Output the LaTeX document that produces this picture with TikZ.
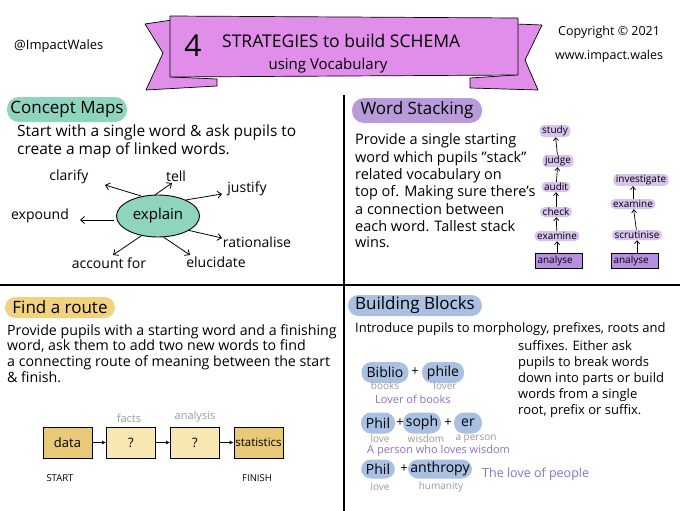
\documentclass[tikz,border=0pt]{standalone}
\usepackage{fontspec}
\setmainfont{Open Sans}
\usetikzlibrary{arrows.meta,shapes.geometric}
\definecolor{bannerc}{HTML}{E08EEA}
\definecolor{tealc}{HTML}{8FD4BE}
\definecolor{lavc}{HTML}{B99BDC}
\definecolor{lavlight}{HTML}{D8C3EF}
\definecolor{lavbox}{HTML}{B58FE0}
\definecolor{yelc}{HTML}{F1D27F}
\definecolor{yelbox}{HTML}{E8C978}
\definecolor{yellight}{HTML}{F8E6B3}
\definecolor{bluec}{HTML}{A9C0E2}
\definecolor{grayt}{HTML}{9A9A9A}
\definecolor{purt}{HTML}{8B70C8}
\begin{document}
\begin{tikzpicture}[x=1pt,y=-1pt,
  txt/.style={anchor=mid west,inner sep=0pt,font=\fontsize{14.5}{16}\selectfont},
  small/.style={anchor=mid west,inner sep=0pt,font=\fontsize{13}{14}\selectfont},
  word/.style={inner sep=0pt,font=\fontsize{14}{15}\selectfont},
  ttlpill/.style={inner sep=0pt,font=\fontsize{17}{19}\selectfont,minimum height=25pt,rounded corners=12pt},
  arr/.style={-{Straight Barb[length=4pt,width=7pt]},line width=0.8pt},
  stk/.style={fill=lavlight,rounded corners=4.5pt,inner xsep=2.5pt,inner ysep=1pt,minimum height=10pt,font=\fontsize{10}{11}\selectfont},
  stkbox/.style={draw,line width=1.2pt,fill=lavbox,minimum width=47pt,minimum height=15pt,inner sep=1pt,font=\fontsize{10}{11}\selectfont},
  sarr/.style={-{Straight Barb[length=3pt,width=5pt]},line width=0.7pt},
  rbox/.style={draw,line width=0.9pt,minimum width=49pt,minimum height=31pt,inner sep=0pt,font=\fontsize{13}{15}\selectfont},
  rarr/.style={-{Latex[length=4pt,width=4pt]},line width=0.8pt},
  bpill/.style={fill=bluec,rounded corners=10pt,minimum height=21pt,inner sep=0pt,font=\fontsize{14}{16}\selectfont},
  glab/.style={text=grayt,inner sep=0pt,font=\fontsize{10}{12}\selectfont},
  plab/.style={text=purt,anchor=mid west,inner sep=0pt,font=\fontsize{11}{13}\selectfont},
  plus/.style={inner sep=0pt,font=\fontsize{13}{15}\selectfont},
  frt/.style={txt,font=\fontsize{14.2}{15}\selectfont},
  bbt/.style={txt,font=\fontsize{13}{15}\selectfont}
]
\useasboundingbox (0,0) rectangle (680,511);
\fill[white] (0,0) rectangle (680,511);

% ---------- banner ----------
\draw[fill=bannerc,line width=0.7pt,line join=round] (145,24) -- (172,20) -- (172,77) -- (217,79) -- (217,86) -- (146,90) -- (163,53) -- cycle;
\draw[fill=bannerc,line width=0.7pt,line join=round] (516,24) -- (542,25) -- (525,60) -- (538,90) -- (470,88) -- (470,78) -- (516,75) -- cycle;
\draw[fill=bannerc,line width=0.7pt,line join=round] (170,16) -- (518,18) -- (518,75) -- (170,77) -- cycle;
\node[inner sep=0pt,font=\fontsize{30}{32}\selectfont] (four) at (193,46) {4};
\node[anchor=mid west,inner sep=0pt,font=\fontsize{17.5}{19}\selectfont] (ttl1) at (222,45) {STRATEGIES to build SCHEMA};
\node[inner sep=0pt,font=\fontsize{15}{17}\selectfont] (ttl2) at (328,66) {using Vocabulary};

\node[small] (handle) at (14,47) {@ImpactWales};
\node[small,font=\fontsize{12.5}{14}\selectfont] (copy) at (558,33) {Copyright © 2021};
\node[small,font=\fontsize{12.5}{14}\selectfont] (web) at (555,57) {www.impact.wales};

% ---------- dividers ----------
\draw[line width=1.8pt] (0,285) -- (680,285);
\draw[line width=1.8pt] (344,95) -- (344,511);

% ---------- Concept Maps ----------
\node[ttlpill,fill=tealc,minimum width=120pt] (cmt) at (67,109.5) {Concept Maps};
\node[txt,font=\fontsize{15.5}{17}\selectfont] (cm1) at (17,134) {Start with a single word \& ask pupils to};
\node[txt,font=\fontsize{15.5}{17}\selectfont] (cm2) at (17,152) {create a map of linked words.};
\node[ellipse,draw,line width=0.9pt,fill=tealc,minimum width=83pt,minimum height=42pt,inner sep=0pt,font=\fontsize{15}{17}\selectfont] (ex) at (158,216) {explain};
\node[word] (clarify) at (69,177) {clarify};
\node[word] (tell) at (176,176) {tell};
\node[word] (justify) at (247,189) {justify};
\node[word] (expound) at (40,216) {expound};
\node[word] (rational) at (257,242) {rationalise};
\node[word] (account) at (109,263) {account for};
\node[word] (eluc) at (216,262) {elucidate};
\coordinate (eClar) at (105,185);
\coordinate (eTell) at (172,183);
\coordinate (eJust) at (222,194);
\coordinate (eExp) at (80,220);
\coordinate (eRat) at (222,238);
\coordinate (eAcc) at (113,255);
\coordinate (eElu) at (190,255);
\draw[arr] (ex.135) ++(2,-1) -- (eClar);
\draw[arr] (ex.97) -- (eTell);
\draw[arr] (ex.30) -- (eJust);
\draw[arr] (ex.west) ++(-2,4) -- (eExp);
\draw[arr] (ex.-25) -- (eRat);
\draw[arr] (ex.-130) -- (eAcc);
\draw[arr] (ex.-75) -- (eElu);

% ---------- Word Stacking ----------
\node[ttlpill,fill=lavc,minimum width=130pt] (wst) at (417,110.5) {Word Stacking};
\node[txt] (ws1) at (355,142) {Provide a single starting};
\node[txt] (ws2) at (355,160) {word which pupils "stack"};
\node[txt] (ws3) at (355,177) {related vocabulary on};
\node[txt] (ws4) at (355,194) {top of. Making sure there's};
\node[txt] (ws5) at (355,212) {a connection between};
\node[txt] (ws6) at (355,229) {each word. Tallest stack};
\node[txt] (ws7) at (355,245) {wins.};

\node[stkbox,text width=43pt,align=left] (a1) at (559,261) {analyse};
\node[stk] (s1e) at (557,236) {examine};
\node[stk] (s1c) at (556,212) {check};
\node[stk] (s1a) at (556,187) {audit};
\node[stk] (s1j) at (558,161) {judge};
\node[stk] (s1s) at (555,131) {study};
\draw[sarr] (a1.north -| s1e) -- (s1e);
\draw[sarr] (s1e) -- (s1c);
\draw[sarr] (s1c) -- (s1a);
\draw[sarr] (s1a) -- (s1j);
\draw[sarr] (s1j) -- (s1s);

\node[stkbox,text width=43pt,align=left] (a2) at (635,261) {analyse};
\node[stk] (s2s) at (637,235) {scrutinise};
\node[stk] (s2e) at (633,204) {examine};
\node[stk] (s2i) at (641,180) {investigate};
\draw[sarr] (a2.north -| s2s) -- (s2s);
\draw[sarr] (s2s) -- (s2e);
\draw[sarr] (s2e.north -| s2e) -- (s2i.south -| s2e);

% ---------- Find a route ----------
\node[ttlpill,fill=yelc,minimum width=110pt,rounded corners=10.5pt,minimum height=21pt] (frt) at (60,307.5) {Find a route};
\node[frt] (fr1) at (7,333) {Provide pupils with a starting word and a finishing};
\node[frt] (fr2) at (7,348) {word, ask them to add two new words to find};
\node[frt] (fr3) at (7,364) {a connecting route of meaning between the start};
\node[frt] (fr4) at (7,380) {\& finish.};
\node[rbox,fill=yelbox] (data) at (67.5,442.5) {data};
\node[rbox,fill=yellight] (q1) at (131,442.5) {?};
\node[rbox,fill=yellight] (q2) at (195,442.5) {?};
\node[rbox,fill=yelbox,font=\fontsize{11.5}{13}\selectfont] (stat) at (258.5,442.5) {statistics};
\draw[rarr] (data) -- (q1);
\draw[rarr] (q1) -- (q2);
\draw[rarr] (q2) -- (stat);
\node[glab,font=\fontsize{11}{13}\selectfont] (facts) at (129,418) {facts};
\node[glab,font=\fontsize{11}{13}\selectfont] (anal) at (195,417) {analysis};
\node[inner sep=0pt,font=\fontsize{9.5}{11}\selectfont] (start) at (60,478) {START};
\node[inner sep=0pt,font=\fontsize{9.5}{11}\selectfont] (fin) at (257,478) {FINISH};

% ---------- Building Blocks ----------
\node[ttlpill,fill=bluec,minimum width=134pt,rounded corners=10.5pt,minimum height=21pt] (bbtl) at (415,305.5) {Building Blocks};
\node[bbt] (bb1) at (355,330) {Introduce pupils to morphology, prefixes, roots and};
\node[bbt] (bb2) at (518,348) {suffixes. Either ask};
\node[bbt] (bb3) at (518,364) {pupils to break words};
\node[bbt] (bb4) at (518,380) {down into parts or build};
\node[bbt] (bb5) at (518,396) {words from a single};
\node[bbt] (bb6) at (518,412) {root, prefix or suffix.};

\node[bpill,minimum width=47pt] (biblio) at (385,372.5) {Biblio};
\node[plus] (p1) at (415,372) {+};
\node[bpill,minimum width=42pt] (phile) at (443,372.5) {phile};
\node[glab] (books) at (385,386) {books};
\node[glab] (lover) at (445,386) {lover};
\node[plab] (lob) at (375,401) {Lover of books};

\node[bpill,minimum width=34pt] (phil1) at (378,423) {Phil};
\node[plus] (p2) at (400,423) {+};
\node[bpill,minimum width=38pt] (soph) at (422,423) {soph};
\node[plus] (p3) at (448,423) {+};
\node[bpill,minimum width=28pt] (er) at (468,423) {er};
\node[glab] (love1) at (380,439) {love};
\node[glab] (wis) at (426,439) {wisdom};
\node[glab] (aper) at (476,439) {a person};
\node[plab] (pwl) at (367,451) {A person who loves wisdom};

\node[bpill,minimum width=34pt,minimum height=19pt] (phil2) at (378,469) {Phil};
\node[plus] (p4) at (404,469) {+};
\node[bpill,minimum width=64pt,minimum height=19pt] (anth) at (440,469) {anthropy};
\node[glab] (love2) at (380,487) {love};
\node[glab] (hum) at (441,487) {humanity};
\node[plab,font=\fontsize{12.5}{14}\selectfont] (tlp) at (482,475) {The love of people};
\end{tikzpicture}
\end{document}
